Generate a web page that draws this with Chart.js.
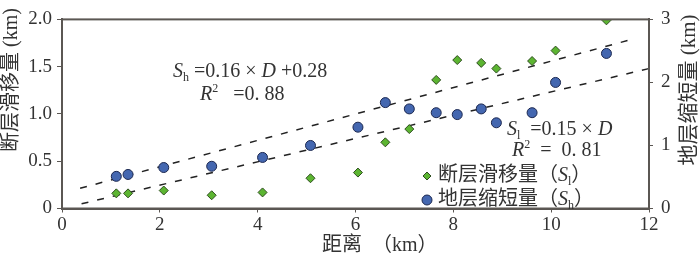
<!DOCTYPE html>
<html>
<head>
<meta charset="utf-8">
<script src="https://cdn.jsdelivr.net/npm/chart.js@4"></script>
<style>
  html, body { margin: 0; padding: 0; background: #fff; }
  canvas { display: block; }
</style>
</head>
<body>
<canvas id="chart" width="700" height="258"></canvas>
<script>
// distance along the section (km), shared by both series
const distance = [1.11, 1.35, 2.08, 3.06, 4.10, 5.08, 6.05, 6.61, 7.10, 7.65, 8.08, 8.57, 8.88, 9.61, 10.09, 11.13];
// fault slip S_l (left axis, km)
const faultSlip = [0.16, 0.16, 0.19, 0.14, 0.17, 0.32, 0.38, 0.70, 0.84, 1.36, 1.57, 1.54, 1.48, 1.56, 1.67, 1.99];
// strata shortening S_h (right axis, km)
const shortening = [0.51, 0.54, 0.65, 0.67, 0.81, 1.00, 1.29, 1.68, 1.58, 1.52, 1.49, 1.58, 1.36, 1.52, 2.00, 2.46];
// dashed fit lines, end points as drawn
const shFitX = [0.37, 11.73];
const shFitY = [0.32, 2.70];   // right axis
const slFitX = [0.40, 12.0];
const slFitY = [0.05, 1.48];   // left axis

const xTicks = [0, 2, 4, 6, 8, 10, 12];

const SERIF = '"Liberation Serif", "Times New Roman", serif';
const CJK = '"Liberation Serif", "Noto Sans CJK SC", serif';
const TEXT = '#333333';
const AXIS = '#5b5753';

const pts = (xs, ys) => xs.map((x, i) => ({ x: x, y: ys[i] }));

// draw a run of text pieces: [text, style] with style '', 'i', 'sub', 'sup'
function drawRich(ctx, x, y, parts, size) {
    let cx = x;
    parts.forEach(([txt, style]) => {
        let s = size, dy = 0, italic = false;
        if (style === 'i') italic = true;
        if (style === 'sub') { s = size * 0.6; dy = size * 0.3; }
        if (style === 'sup') { s = size * 0.6; dy = -size * 0.3; }
        ctx.font = (italic ? 'italic ' : '') + s + 'px ' + CJK;
        ctx.fillText(txt, cx, y + dy);
        cx += ctx.measureText(txt).width;
    });
}

const decorations = {
    id: 'decorations',
    afterDraw(chart) {
        const ctx = chart.ctx;
        const a = chart.chartArea;
        ctx.save();
        // frame
        ctx.strokeStyle = AXIS;
        ctx.lineWidth = 2;
        ctx.strokeRect(a.left, a.top, a.right - a.left, a.bottom - a.top);

        ctx.fillStyle = TEXT;
        ctx.textBaseline = 'middle';
        ctx.textAlign = 'left';

        drawRich(ctx, 173, 72, [['S', 'i'], ['h', 'sub'], [' =0.16 × ', ''], ['D', 'i'], [' +0.28', '']], 20);
        drawRich(ctx, 200, 95, [['R', 'i'], ['2', 'sup'], ['   =0. 88', '']], 20);
        drawRich(ctx, 507, 130, [['S', 'i'], ['l', 'sub'], ['  =0.15 × ', ''], ['D', 'i']], 20);
        drawRich(ctx, 512, 151, [['R', 'i'], ['2', 'sup'], ['  =  0. 81', '']], 20);

        // legend
        drawRich(ctx, 438, 176, [['断层滑移量（', ''], ['S', 'i'], ['l', 'sub'], ['）', '']], 20);
        drawRich(ctx, 438, 200, [['地层缩短量（', ''], ['S', 'i'], ['h', 'sub'], ['）', '']], 20);
        ctx.lineWidth = 1;
        ctx.fillStyle = '#5cb531';
        ctx.strokeStyle = '#2e4d1f';
        ctx.beginPath();
        ctx.moveTo(427, 172); ctx.lineTo(431, 176); ctx.lineTo(427, 180); ctx.lineTo(423, 176);
        ctx.closePath(); ctx.fill(); ctx.stroke();
        ctx.fillStyle = '#4467b0';
        ctx.strokeStyle = '#1c2850';
        ctx.beginPath();
        ctx.arc(427, 200, 5, 0, Math.PI * 2);
        ctx.fill(); ctx.stroke();

        // axis titles
        ctx.fillStyle = TEXT;
        ctx.textAlign = 'left';
        drawRich(ctx, 322, 246, [['距离  （km）', '']], 20);
        ctx.font = '20px ' + CJK;
        ctx.textAlign = 'center';
        ctx.save();
        ctx.translate(12, 80);
        ctx.rotate(-Math.PI / 2);
        ctx.fillText('断层滑移量 (km)', 0, 0);
        ctx.restore();
        ctx.font = '21px ' + CJK;
        ctx.save();
        ctx.translate(689, 90);
        ctx.rotate(-Math.PI / 2);
        ctx.fillText('地层缩短量 (km)', 0, 0);
        ctx.restore();
        ctx.restore();
    }
};

new Chart(document.getElementById('chart'), {
    type: 'scatter',
    data: {
        datasets: [
            {
                label: '断层滑移量',
                data: pts(distance, faultSlip),
                yAxisID: 'y',
                pointStyle: 'rectRot',
                pointRadius: 4.5,
                backgroundColor: '#5cb531',
                borderColor: '#2e4d1f',
                borderWidth: 1,
                order: 0
            },
            {
                label: '地层缩短量',
                data: pts(distance, shortening),
                yAxisID: 'y2',
                pointStyle: 'circle',
                pointRadius: 5,
                backgroundColor: '#4467b0',
                borderColor: '#1c2850',
                borderWidth: 1,
                order: 0
            },
            {
                type: 'line',
                data: pts(shFitX, shFitY),
                yAxisID: 'y2',
                borderColor: '#222',
                borderWidth: 1.5,
                borderDash: [7, 9],
                pointRadius: 0,
                fill: false,
                order: 1
            },
            {
                type: 'line',
                data: pts(slFitX, slFitY),
                yAxisID: 'y',
                borderColor: '#222',
                borderWidth: 1.5,
                borderDash: [7, 9],
                pointRadius: 0,
                fill: false,
                order: 1
            }
        ]
    },
    options: {
        responsive: false,
        animation: false,
        devicePixelRatio: 1,
        layout: { padding: { left: 0, right: 0, top: 11, bottom: 0 } },
        plugins: { legend: { display: false }, tooltip: { enabled: false } },
        scales: {
            x: {
                type: 'linear',
                min: 0, max: 12,
                afterBuildTicks: s => { s.ticks = xTicks.map(v => ({ value: v })); },
                afterFit: s => { s.height = 49.5; },
                grid: { drawOnChartArea: false, tickLength: 4, color: AXIS },
                border: { color: AXIS, width: 2 },
                ticks: { color: TEXT, padding: 1, font: { family: SERIF, size: 19 }, maxRotation: 0 }
            },
            y: {
                position: 'left',
                min: 0, max: 2,
                afterFit: s => { s.width = 62; },
                grid: { drawOnChartArea: false, tickLength: 5, color: AXIS },
                border: { color: AXIS, width: 2 },
                ticks: {
                    stepSize: 0.5, color: TEXT, padding: 5,
                    font: { family: SERIF, size: 19 },
                    callback: v => v === 0 ? '0' : v.toFixed(1)
                }
            },
            y2: {
                position: 'right',
                min: 0, max: 3,
                afterFit: s => { s.width = 51; },
                grid: { drawOnChartArea: false, tickLength: 4, color: AXIS },
                border: { color: AXIS, width: 2 },
                ticks: { stepSize: 1, color: TEXT, padding: 8, font: { family: SERIF, size: 19 } }
            }
        }
    },
    plugins: [decorations]
});
</script>
</body>
</html>
